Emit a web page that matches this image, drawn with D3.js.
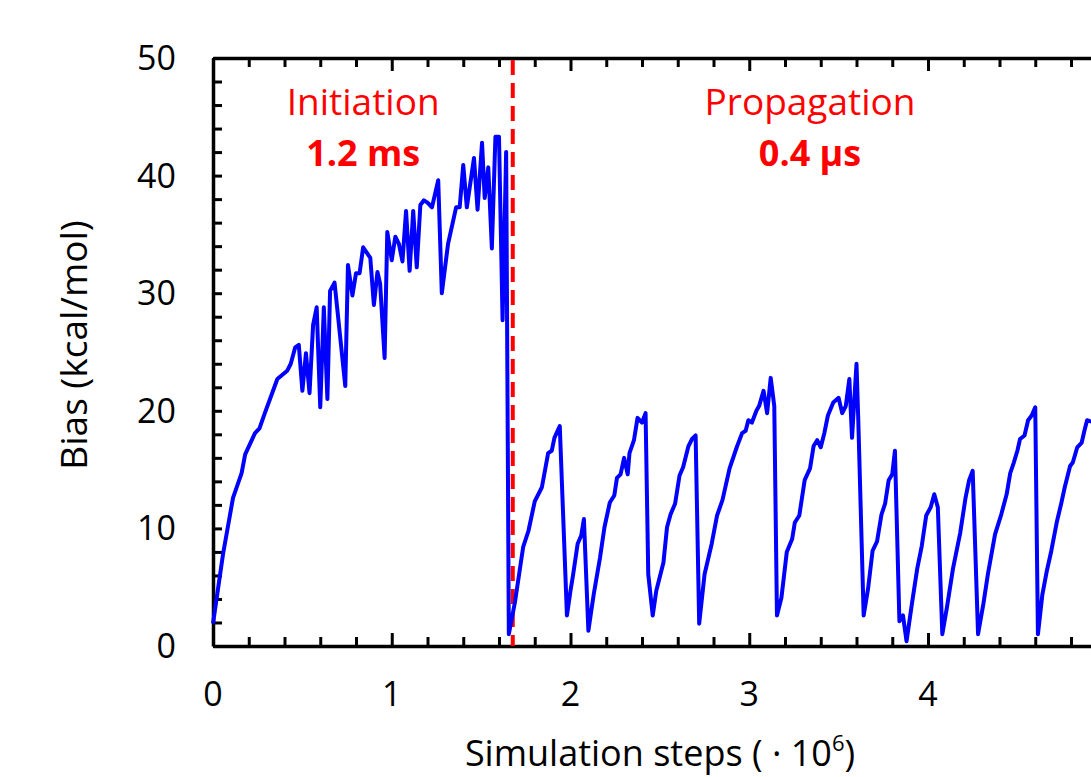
<!DOCTYPE html>
<html><head><meta charset="utf-8">
<script src="https://cdn.jsdelivr.net/npm/d3@7"></script>
<style>body{margin:0;background:#fff;overflow:hidden}svg{display:block}text{font-family:"Open Sans","Noto Sans",sans-serif}</style>
</head><body>
<svg id="c" width="1091" height="777"></svg>
<script>
// Simulation steps (x 10^6)
const steps = [0,0.056,0.112,0.16,0.18,0.235,0.26,0.29,0.36,0.415,0.435,0.46,0.48,0.50,0.52,0.54,0.56,0.58,0.60,0.62,0.64,0.655,0.68,0.74,0.755,0.78,0.80,0.82,0.84,0.88,0.90,0.92,0.935,0.96,0.975,1.0,1.02,1.04,1.06,1.08,1.10,1.12,1.14,1.16,1.18,1.20,1.225,1.26,1.28,1.315,1.36,1.38,1.40,1.42,1.46,1.48,1.505,1.52,1.54,1.56,1.58,1.60,1.62,1.64,1.655,
1.69,1.735,1.765,1.80,1.84,1.875,1.895,1.91,1.94,1.98,2.0,2.015,2.04,2.06,2.075,2.10,2.13,2.165,2.19,2.22,2.245,2.26,2.28,2.30,2.32,2.33,2.355,2.375,2.40,2.42,2.435,2.46,2.48,2.52,2.54,2.56,2.585,2.61,2.63,2.66,2.68,2.70,2.72,2.75,2.79,2.82,2.85,2.89,2.93,2.96,2.98,2.995,3.015,3.04,3.055,3.08,3.10,3.12,3.14,3.155,3.18,3.21,3.24,3.255,3.28,3.31,3.34,3.36,3.38,3.40,3.42,3.44,3.47,3.50,3.52,3.54,3.56,3.575,3.60,3.61,3.64,3.665,3.69,3.715,3.74,3.76,3.78,3.80,3.815,3.84,3.86,3.88,3.91,3.94,3.965,3.99,4.015,4.035,4.055,4.08,4.105,4.14,4.18,4.21,4.23,4.25,4.28,4.31,4.335,4.375,4.41,4.44,4.46,4.48,4.50,4.515,4.54,4.56,4.58,4.60,4.615,4.64,4.665,4.69,4.72,4.745,4.765,4.795,4.81,4.835,4.86,4.875,4.89,4.93];
// Bias (kcal/mol)
const bias = [1.9,7.8,12.6,14.7,16.3,18.1,18.5,19.8,22.7,23.4,24.0,25.4,25.6,21.7,24.9,21.5,27.3,28.8,20.3,28.8,21.0,30.2,30.9,22.1,32.4,29.8,31.7,31.7,33.9,33.0,29.0,31.8,30.8,24.5,35.2,32.8,34.8,34.2,32.7,37.0,31.9,37.0,32.2,37.5,37.9,37.7,37.3,39.6,30.0,34.2,37.3,37.3,40.9,37.3,41.5,37.1,42.8,38.1,40.7,33.8,43.3,43.3,27.7,42.0,1.0,
3.8,8.4,9.8,12.3,13.5,16.4,16.6,17.7,18.7,2.6,4.7,6.1,8.7,9.4,10.8,1.3,4.4,7.5,10.1,12.2,12.8,14.3,14.6,16.0,14.6,16.4,17.5,19.4,19.0,19.8,6.1,2.6,4.7,7.1,10.1,11.2,12.1,14.5,15.2,17.0,17.6,17.9,1.9,6.1,8.7,11.1,12.4,15.1,16.9,18.1,18.3,19.2,19.0,20.0,20.4,21.7,19.8,22.8,20.4,2.6,4.1,8.0,9.1,10.5,11.1,14.1,15.1,17.0,17.5,16.9,18.1,19.6,20.7,21.1,19.8,20.4,22.7,17.7,24.0,19.2,2.6,4.9,8.1,8.9,11.2,12.1,14.1,14.6,16.6,2.1,2.6,0.4,3.6,6.6,8.5,11.1,11.8,12.9,11.8,1.0,3.2,6.6,9.6,12.6,14.1,14.9,1.0,3.6,6.1,9.5,11.2,12.9,14.7,15.6,16.6,17.6,17.9,19.2,19.6,20.3,1.0,4.4,6.4,8.1,10.5,12.1,13.5,15.3,15.6,16.9,17.3,18.3,19.2,19.0];
const phaseBoundary = 1.677;
const phases = [
  {name:"Initiation", time:"1.2 ms", at:0.84},
  {name:"Propagation", time:"0.4 µs", at:3.34}
];
const xTicks = d3.range(0, 5.51, 0.2).map(v=>+v.toFixed(1));
const xLabels = [0,1,2,3,4];
const yTicks = d3.range(0, 50.1, 2);
const yLabels = [0,10,20,30,40,50];

const svg = d3.select("#c");
const L = 213, T = 58, B = 646, unit = 178.75;
const x = d3.scaleLinear().domain([0,5.5]).range([L, L + unit*5.5]);
const y = d3.scaleLinear().domain([0,50]).range([B, T]);

const isMaj = v => Math.abs(v - Math.round(v)) < 1e-6;
const gB = svg.append("g").attr("transform",`translate(0,${B})`)
  .call(d3.axisTop(x).tickValues(xTicks).tickFormat("").tickSizeOuter(0));
gB.selectAll(".tick line").attr("y2", d=>isMaj(d)?-13:-9);
const gT = svg.append("g").attr("transform",`translate(0,${T})`)
  .call(d3.axisBottom(x).tickValues(xTicks).tickFormat("").tickSizeOuter(0));
gT.selectAll(".tick line").attr("y2", d=>isMaj(d)?13:9);
const gL = svg.append("g").attr("transform",`translate(${L},0)`)
  .call(d3.axisRight(y).tickValues(yTicks).tickFormat("").tickSize(9).tickSizeOuter(0));
[gB,gT,gL].forEach(g=>{
  g.selectAll(".tick line").attr("stroke","#000").attr("stroke-width",3);
  g.select(".domain").attr("stroke","#000").attr("stroke-width",3.5);
});
// labels
svg.append("g").selectAll("text").data(xLabels).join("text")
  .attr("x", d=>x(d)).attr("y", 706).attr("text-anchor","middle")
  .attr("font-size",34).attr("fill","#000").text(d=>d);
svg.append("g").selectAll("text").data(yLabels).join("text")
  .attr("x", 176).attr("y", d=>y(d)+12).attr("text-anchor","end")
  .attr("font-size",34).attr("fill","#000").text(d=>d);
svg.append("text").attr("transform","translate(87,345) rotate(-90)")
  .attr("text-anchor","middle").attr("font-size",37).text("Bias (kcal/mol)");
const xt = svg.append("text").attr("x",660).attr("y",766).attr("text-anchor","middle").attr("font-size",36);
xt.append("tspan").text("Simulation steps ( · 10");
xt.append("tspan").attr("font-size",22).attr("dy",-15).text("6");
xt.append("tspan").attr("dy",15).text(")");

// boundary
svg.append("line").attr("x1",x(phaseBoundary)).attr("x2",x(phaseBoundary))
  .attr("y1",T+2).attr("y2",B).attr("stroke","#ff0000").attr("stroke-width",4)
  .attr("stroke-dasharray","15,8");

// series
svg.append("path").datum(steps.map((s,i)=>[s,bias[i]]))
  .attr("fill","none").attr("stroke","#0000ff").attr("stroke-width",4)
  .attr("stroke-linejoin","round")
  .attr("d", d3.line().x(d=>x(d[0])).y(d=>y(d[1])));

// phase annotations
const pa = svg.append("g").selectAll("g").data(phases).join("g");
pa.append("text").attr("x",d=>x(d.at)).attr("y",115).attr("text-anchor","middle")
  .attr("font-size",37).attr("fill","#ff0000").text(d=>d.name);
pa.append("text").attr("x",d=>x(d.at)).attr("y",166).attr("text-anchor","middle")
  .attr("font-size",36).attr("font-weight","bold").attr("fill","#ff0000").text(d=>d.time);
</script>
</body></html>
